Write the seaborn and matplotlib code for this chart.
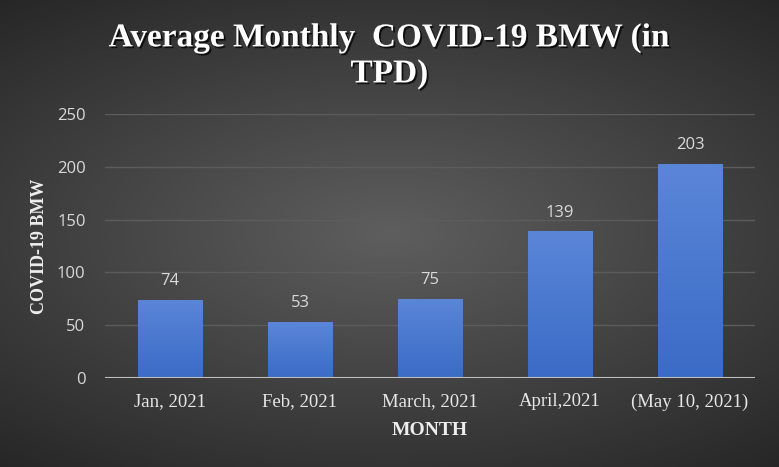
import numpy as np
import pandas as pd
import matplotlib.pyplot as plt
import matplotlib.patheffects as pe
from matplotlib.colors import LinearSegmentedColormap
import seaborn as sns

# Chart data
months = ["Jan, 2021", "Feb, 2021", "March, 2021", "April,2021", "(May 10, 2021)"]
bmw_tpd = [74, 53, 75, 139, 203]
y_ticks = [0, 50, 100, 150, 200, 250]

df = pd.DataFrame({"month": months, "bmw": bmw_tpd})

sns.set_style("dark")
plt.rcParams['font.family'] = ['Liberation Serif', 'DejaVu Serif']

fig = plt.figure(figsize=(7.79, 4.67), dpi=100)

# radial dark gradient background
bg = fig.add_axes([0, 0, 1, 1], zorder=-10)
yy, xx = np.mgrid[-1:1:467j, -1:1:779j]
r = np.sqrt((xx * 0.9) ** 2 + (yy * 1.1) ** 2)
bg.imshow(r, cmap=sns.dark_palette("#5e5e5e", as_cmap=True).reversed(),
          vmin=0, vmax=1.45, aspect='auto', extent=[0, 1, 0, 1])
bg.axis('off')

ax = fig.add_axes([105 / 779, 1 - 378 / 467, 650 / 779, 264 / 467])
ax.set_facecolor('none')
sns.barplot(data=df, x="month", y="bmw", color="#4a77d2", width=0.5,
            saturation=1, linewidth=0, ax=ax, zorder=3)

# vertical gradient fill on each bar
bar_cmap = LinearSegmentedColormap.from_list("bar", ["#3a6bc6", "#5b86d8"])
grad = np.linspace(0, 1, 256).reshape(-1, 1)
for p in ax.patches:
    x0, y0, w, h = p.get_x(), p.get_y(), p.get_width(), p.get_height()
    im = ax.imshow(grad, cmap=bar_cmap, origin='lower', aspect='auto',
                   extent=[x0, x0 + w, y0, y0 + h], zorder=3.5)
    im.set_clip_path(p)
ax.set_xlim(-0.5, len(months) - 0.5)
ax.set_ylim(0, 250)
ax.set_yticks(y_ticks)

ax.grid(axis='y', color='#5c5c5c', linewidth=1)
ax.grid(axis='x', visible=False)
for s in ax.spines.values():
    s.set_visible(False)
ax.axhline(0, color='#bfbfbf', linewidth=1.5, zorder=4)

shadow = [pe.withSimplePatchShadow(offset=(1.3, -1.3), shadow_rgbFace='black', alpha=0.75)]

ax.tick_params(length=0)
ax.tick_params(axis='y', pad=14)
ax.tick_params(axis='x', pad=11)
for lab in ax.get_yticklabels():
    lab.set_fontfamily('Open Sans')
    lab.set_fontsize(12)
    lab.set_color('#d9d9d9')
for lab in ax.get_xticklabels():
    lab.set_fontsize(13.5)
    lab.set_color('#e6e6e6')

for i, v in enumerate(bmw_tpd):
    ax.text(i, v + 10, str(v), ha='center', va='bottom', fontsize=12,
            color='#d9d9d9', family='Open Sans')

ax.set_xlabel("MONTH", fontsize=14, fontweight='bold', color='#eeeeee', labelpad=8)
ax.set_ylabel("COVID-19 BMW", fontsize=13, fontweight='bold', color='#eeeeee', labelpad=6)

fig.text(0.5, 1 - 56 / 467, "Average Monthly  COVID-19 BMW (in\nTPD)", ha='center', va='center',
         fontsize=24, fontweight='bold', color='white', linespacing=1.2,
         path_effects=shadow)

fig.savefig("out.png", dpi=100)
